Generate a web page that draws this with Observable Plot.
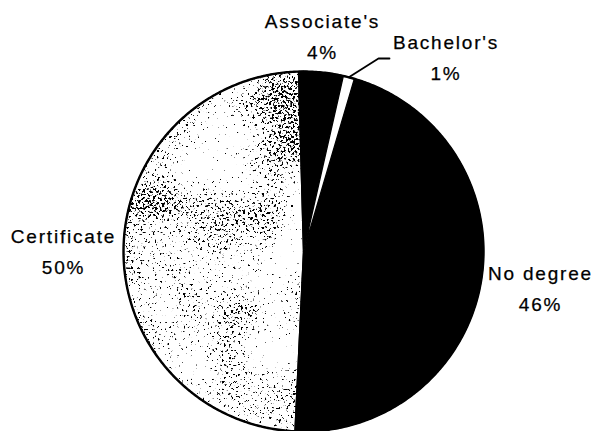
<!DOCTYPE html>
<html><head><meta charset="utf-8">
<script src="https://cdn.jsdelivr.net/npm/d3@7"></script>
<script src="https://cdn.jsdelivr.net/npm/@observablehq/plot@0.6"></script>
<style>html,body{margin:0;padding:0;background:#fff}</style>
</head><body><div id="chart"></div>
<script>
// ---- data ----
const categories = ["Associate's", "Bachelor's", "No degree", "Certificate"];
const shares = [4.0, 1.0, 46.2, 48.8];
const percentLabels = ["4%", "1%", "46%", "50%"];

// ---- layout / style (not data) ----
const W = 596, H = 431;
const CX = 303, CY = 251, R = 180;
const START = -1.6 * Math.PI / 180;
const sliceFills = ["#000", "#fff", "#000", "#fff"];
// label anchor: center x, baseline of the percent line
const labelAnchor = [[322, 58.3], [445.5, 79], [540, 310], [63, 273]];
const leaderElbow = [[378, 58], [389, 58]];

const arcs = d3.pie().sort(null).startAngle(START).endAngle(START + 2 * Math.PI)(shares);
const pt = (a, r) => ({x: CX + r * Math.sin(a), y: CY - r * Math.cos(a)});

function slicePoly(arc) {
  const pts = [pt(0, 0)];
  const n = Math.max(4, Math.ceil((arc.endAngle - arc.startAngle) / 0.01));
  for (let k = 0; k <= n; k++) {
    const a = arc.startAngle + (arc.endAngle - arc.startAngle) * k / n;
    pts.push(pt(a, R));
  }
  pts.push(pt(0, 0));
  return pts;
}
const polys = arcs.map(slicePoly);
const outline = d3.range(0, 629).map(k => pt(k / 100, R));

const bach = arcs[1];
const bachMid = (bach.startAngle + bach.endAngle) / 2;
const leader = [pt(bachMid, R), {x: leaderElbow[0][0], y: leaderElbow[0][1]}, {x: leaderElbow[1][0], y: leaderElbow[1][1]}];

const labels = categories.map((c, i) => ({
  text: c + "\n" + percentLabels[i],
  x: labelAnchor[i][0], y: labelAnchor[i][1]
}));

const drawOrder = [3, 2, 0, 1]; // Certificate first
const sliceMarks = drawOrder.map(i => Plot.line(polys[i], {
  x: "x", y: "y", fill: sliceFills[i], stroke: "#000", strokeWidth: 1.3,
  strokeLinejoin: "round"
}));

const svg = Plot.plot({
  width: W, height: H,
  margin: 0,
  x: {domain: [0, W], range: [0, W], axis: null},
  y: {domain: [0, H], range: [0, H], axis: null},
  style: {fontFamily: "'Liberation Sans', Arial, sans-serif", letterSpacing: "1.8px", background: "#fff"},
  marks: [
    ...sliceMarks,
    Plot.line(outline, {x: "x", y: "y", stroke: "#000", strokeWidth: 2.4, fill: "none"}),
    Plot.line(leader, {x: "x", y: "y", stroke: "#000", strokeWidth: 1.8}),
    Plot.text(labels, {x: "x", y: "y", text: "text", fontSize: 19, lineHeight: 1.6,
      lineAnchor: "bottom", textAnchor: "middle", fill: "#000",
      stroke: "#000", strokeWidth: 0.25})
  ]
});

// speckle texture for the Certificate slice (first line mark)
const s = d3.select(svg);
const defs = s.insert("defs", ":first-child");
const f = defs.append("filter").attr("id", "speck")
  .attr("x", "0").attr("y", "0").attr("width", "1").attr("height", "1")
  .attr("color-interpolation-filters", "sRGB");
f.append("feTurbulence").attr("type", "fractalNoise").attr("baseFrequency", "0.42")
  .attr("numOctaves", 2).attr("seed", 7).attr("result", "fine");
f.append("feColorMatrix").attr("in", "fine").attr("type", "matrix")
  .attr("values", "0 0 0 0 0  0 0 0 0 0  0 0 0 0 0  1 0 0 0 0").attr("result", "fineA");
f.append("feTurbulence").attr("type", "fractalNoise").attr("baseFrequency", "0.012")
  .attr("numOctaves", 2).attr("seed", 3).attr("result", "coarse");
f.append("feColorMatrix").attr("in", "coarse").attr("type", "matrix")
  .attr("values", "0 0 0 0 0  0 0 0 0 0  0 0 0 0 0  1 0 0 0 0").attr("result", "coarseA");
f.append("feComposite").attr("in", "fineA").attr("in2", "coarseA").attr("operator", "arithmetic")
  .attr("k1", 0).attr("k2", 0.8).attr("k3", 0.45).attr("k4", 0).attr("result", "sum");
f.append("feColorMatrix").attr("in", "sum").attr("type", "matrix")
  .attr("values", "0 0 0 0 0  0 0 0 0 0  0 0 0 0 0  0 0 0 20 -15.1").attr("result", "dots");
f.append("feComposite").attr("in", "dots").attr("in2", "SourceGraphic").attr("operator", "in").attr("result", "clipped");
const m = f.append("feMerge");
m.append("feMergeNode").attr("in", "SourceGraphic");
m.append("feMergeNode").attr("in", "clipped");
const firstLine = svg.querySelector('g[aria-label="line"] path');
if (firstLine) firstLine.setAttribute("filter", "url(#speck)");

document.getElementById("chart").appendChild(svg);
</script>
</body></html>
